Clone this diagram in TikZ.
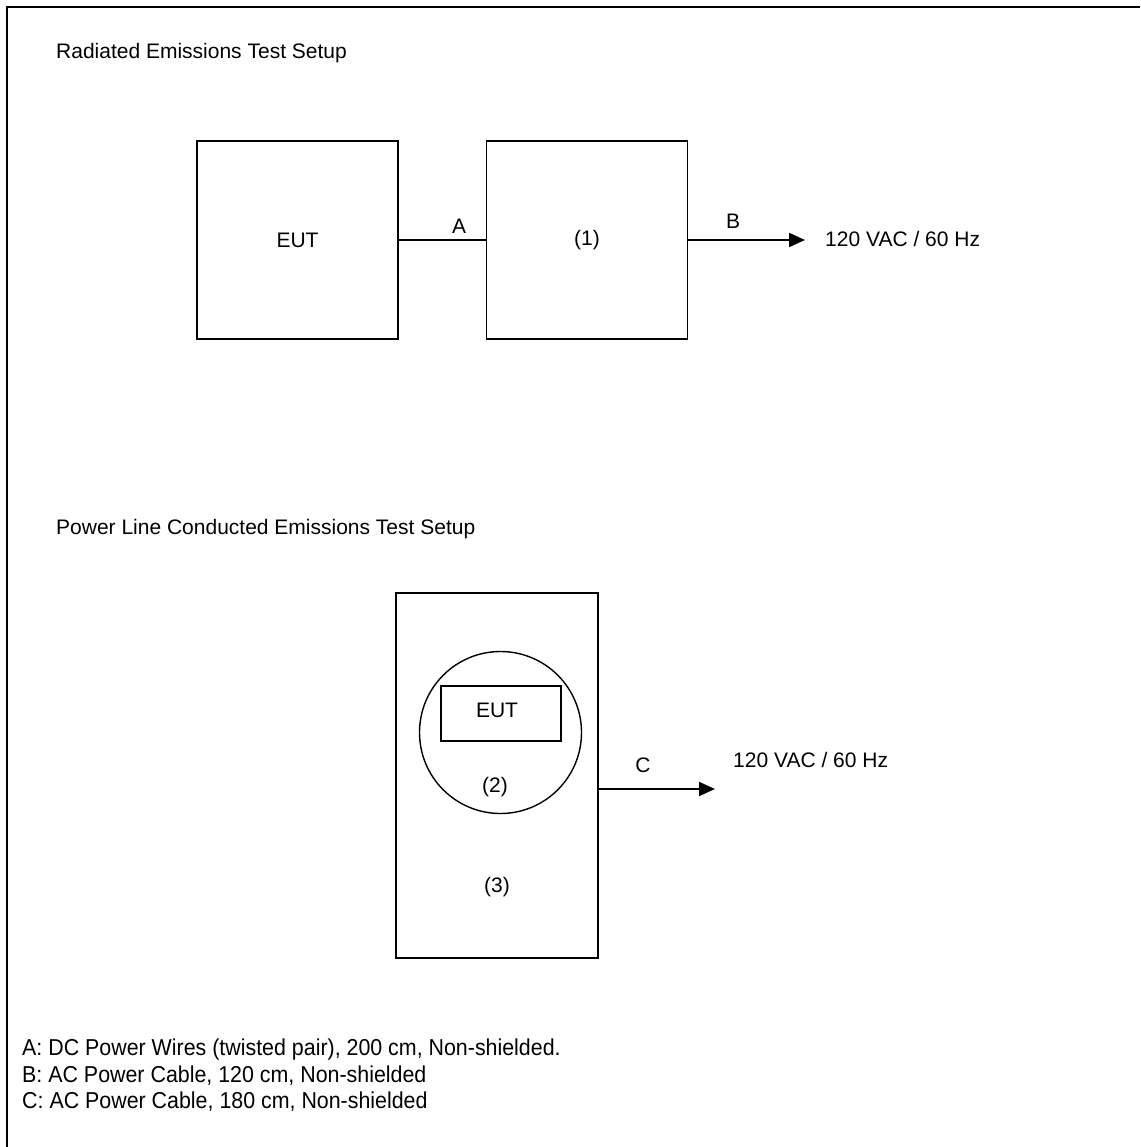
\documentclass[tikz,border=0pt]{standalone}
\usepackage{fontspec}
\setmainfont{Liberation Sans}
\usetikzlibrary{arrows.meta}
\newcommand{\narrowtext}[1]{\scalebox{0.93}[1]{#1}}
\begin{document}
\begin{tikzpicture}[x=1pt,y=-1pt,
  txt/.style={inner sep=0pt,font=\fontsize{21}{25}\selectfont},
  foot/.style={inner sep=0pt,font=\fontsize{23}{27}\selectfont},
  blk/.style={draw,line width=1.8pt,inner sep=0pt},
  thin/.style={draw,line width=1.4pt,inner sep=0pt},
  wire/.style={line width=1.8pt},
  arr/.style={line width=1.8pt,-{Triangle[length=16pt,width=14pt]}}]
\useasboundingbox (0,0) rectangle (1140,1147);
% frame (top and left edges)
\draw[line width=2.6pt] (1140,7) -- (7,7) -- (7,1147);
% titles
\node[txt,anchor=base west] (t1) at (56,59) {Radiated Emissions Test Setup};
\node[txt,anchor=base west] (t2) at (56,534) {Power Line Conducted Emissions Test Setup};
% radiated setup
\node[blk,minimum width=201pt,minimum height=198pt,txt] (eut) at (297.5,240) {EUT};
\node[blk,minimum width=201pt,minimum height=198pt,txt] (one) at (587,240) {(1)};
\draw[wire] (eut.east) -- (one.west);
\node[txt,anchor=base] (la) at (459,234) {A};
\coordinate (bend) at (805,240);
\draw[arr] (one.east) -- (bend);
\node[txt,anchor=base] (lb) at (733,229) {B};
\node[txt,anchor=base west] (v1) at (825,247) {120 VAC / 60 Hz};
% conducted setup
\node[blk,minimum width=202pt,minimum height=365pt] (three) at (497,775.5) {};
\node[thin,circle,minimum size=162pt] (two) at (500.5,732.5) {};
\node[thin,minimum width=120pt,minimum height=55pt] (eut2) at (501,713.5) {};
\node[txt] (eutl) at (497,710) {EUT};
\node[txt] (l2) at (495,787) {(2)};
\node[txt] (l3) at (497,887) {(3)};
\coordinate (cend) at (715,789);
\draw[arr] (three.east |- cend) -- (cend);
\node[txt,anchor=base] (lc) at (643,772) {C};
\node[txt,anchor=base west] (v2) at (733,767) {120 VAC / 60 Hz};
% legend
\node[foot,anchor=base west] (f1) at (22,1055) {\narrowtext{A: DC Power Wires (twisted pair), 200 cm, Non-shielded.}};
\node[foot,anchor=base west] (f2) at (22,1082) {\narrowtext{B: AC Power Cable, 120 cm, Non-shielded}};
\node[foot,anchor=base west] (f3) at (22,1108) {\narrowtext{C: AC Power Cable, 180 cm, Non-shielded}};
\end{tikzpicture}
\end{document}
